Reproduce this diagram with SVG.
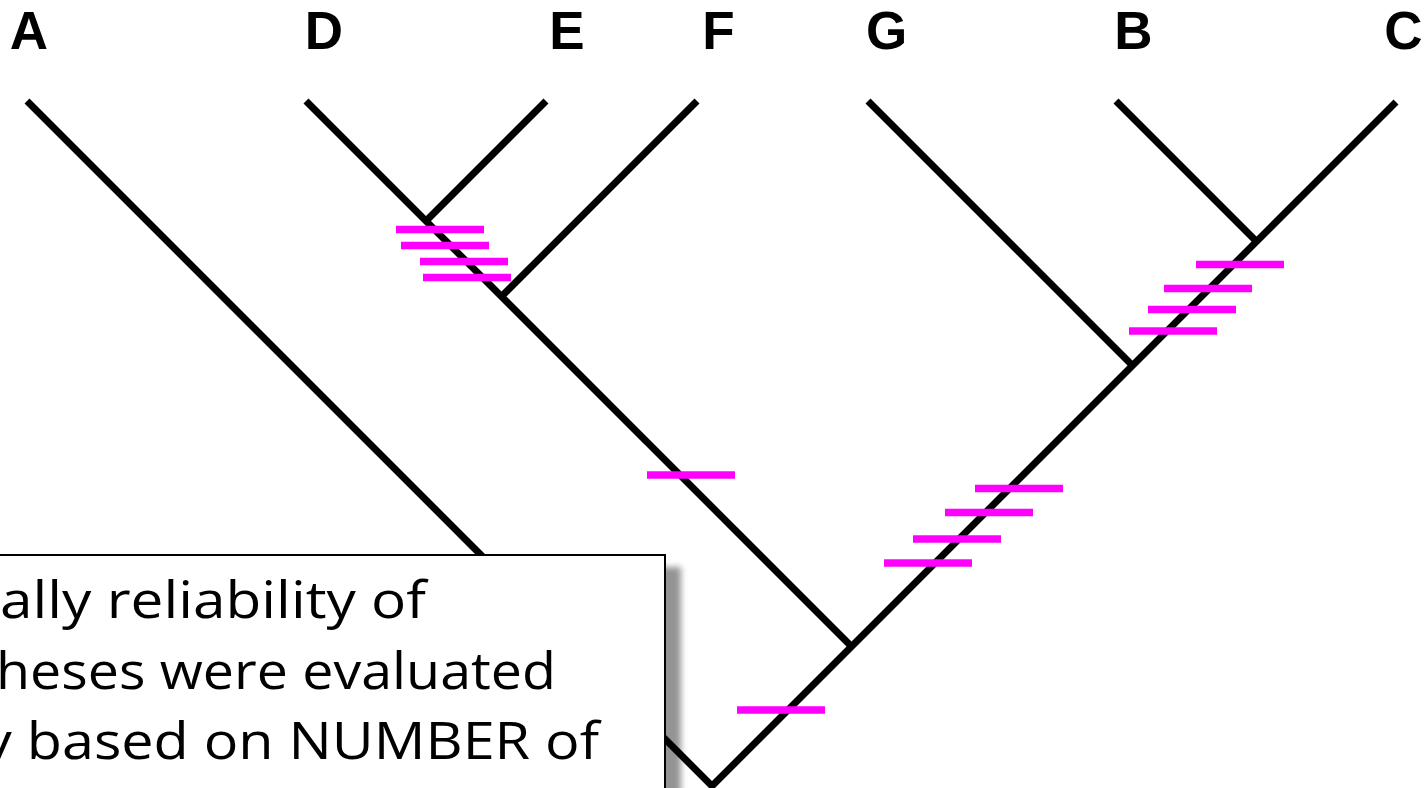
<svg xmlns="http://www.w3.org/2000/svg" width="1425" height="788" viewBox="0 0 1425 788">
  <style>
    .branch { stroke: #000; stroke-width: 7; fill: none; stroke-linecap: butt; stroke-linejoin: miter; }
    .tick { stroke: #ff00ff; stroke-width: 7.5; stroke-linecap: butt; }
    .taxon { font-family: "Liberation Sans", Arial, sans-serif; font-weight: bold; font-size: 53px; fill: #000; text-anchor: middle; }
    .note { font-family: "Open Sans", "Noto Sans", sans-serif; font-weight: 400; font-size: 52px; fill: #000; }
  </style>
  <defs>
    <filter id="boxShadow" x="-10%" y="-10%" width="130%" height="130%">
      <feDropShadow dx="15" dy="13" stdDeviation="3" flood-color="#000" flood-opacity="0.42"/>
    </filter>
  </defs>
  <rect width="1425" height="788" fill="#fff"/>

  <!-- tree branches -->
  <g id="connectors">
    <polyline class="branch" points="27,101 712,786 1396,102"/>
    <line class="branch" x1="306" y1="101" x2="851.5" y2="646.5"/>
    <line class="branch" x1="546" y1="101" x2="426" y2="221"/>
    <line class="branch" x1="697" y1="101" x2="501.5" y2="296.5"/>
    <line class="branch" x1="868" y1="101" x2="1132.5" y2="365.5"/>
    <line class="branch" x1="1116" y1="101" x2="1256.5" y2="241.5"/>
  </g>

  <!-- character-change marks -->
  <g id="changes">
    <line class="tick" x1="396" y1="229.5" x2="484" y2="229.5"/>
    <line class="tick" x1="401" y1="245.5" x2="489" y2="245.5"/>
    <line class="tick" x1="420" y1="261.5" x2="508" y2="261.5"/>
    <line class="tick" x1="423" y1="277.5" x2="511" y2="277.5"/>
    <line class="tick" x1="647" y1="475" x2="735" y2="475"/>
    <line class="tick" x1="975" y1="488.5" x2="1063" y2="488.5"/>
    <line class="tick" x1="945" y1="512.5" x2="1033" y2="512.5"/>
    <line class="tick" x1="913" y1="539" x2="1001" y2="539"/>
    <line class="tick" x1="884" y1="563" x2="972" y2="563"/>
    <line class="tick" x1="737" y1="710" x2="825" y2="710"/>
    <line class="tick" x1="1196" y1="264.5" x2="1284" y2="264.5"/>
    <line class="tick" x1="1164" y1="288.5" x2="1252" y2="288.5"/>
    <line class="tick" x1="1148" y1="309.5" x2="1236" y2="309.5"/>
    <line class="tick" x1="1129" y1="331" x2="1217" y2="331"/>
  </g>

  <!-- taxon labels -->
  <g id="taxon-A"><text class="taxon" x="29" y="49">A</text></g>
  <g id="taxon-D"><text class="taxon" x="324" y="49">D</text></g>
  <g id="taxon-E"><text class="taxon" x="567" y="49">E</text></g>
  <g id="taxon-F"><text class="taxon" x="718.5" y="49">F</text></g>
  <g id="taxon-G"><text class="taxon" x="886.5" y="49">G</text></g>
  <g id="taxon-B"><text class="taxon" x="1133.5" y="49">B</text></g>
  <g id="taxon-C"><text class="taxon" x="1403.5" y="49">C</text></g>

  <!-- callout box -->
  <g id="note">
    <rect x="-20" y="555" width="685" height="260" fill="#fff" stroke="#000" stroke-width="2" filter="url(#boxShadow)"/>
    <text class="note" x="0" y="618" textLength="426" lengthAdjust="spacingAndGlyphs">ally reliability of</text>
    <text class="note" x="-4" y="689" textLength="560" lengthAdjust="spacingAndGlyphs">heses were evaluated</text>
    <text class="note" x="-17" y="759" textLength="616" lengthAdjust="spacingAndGlyphs">y based on NUMBER of</text>
  </g>
</svg>
